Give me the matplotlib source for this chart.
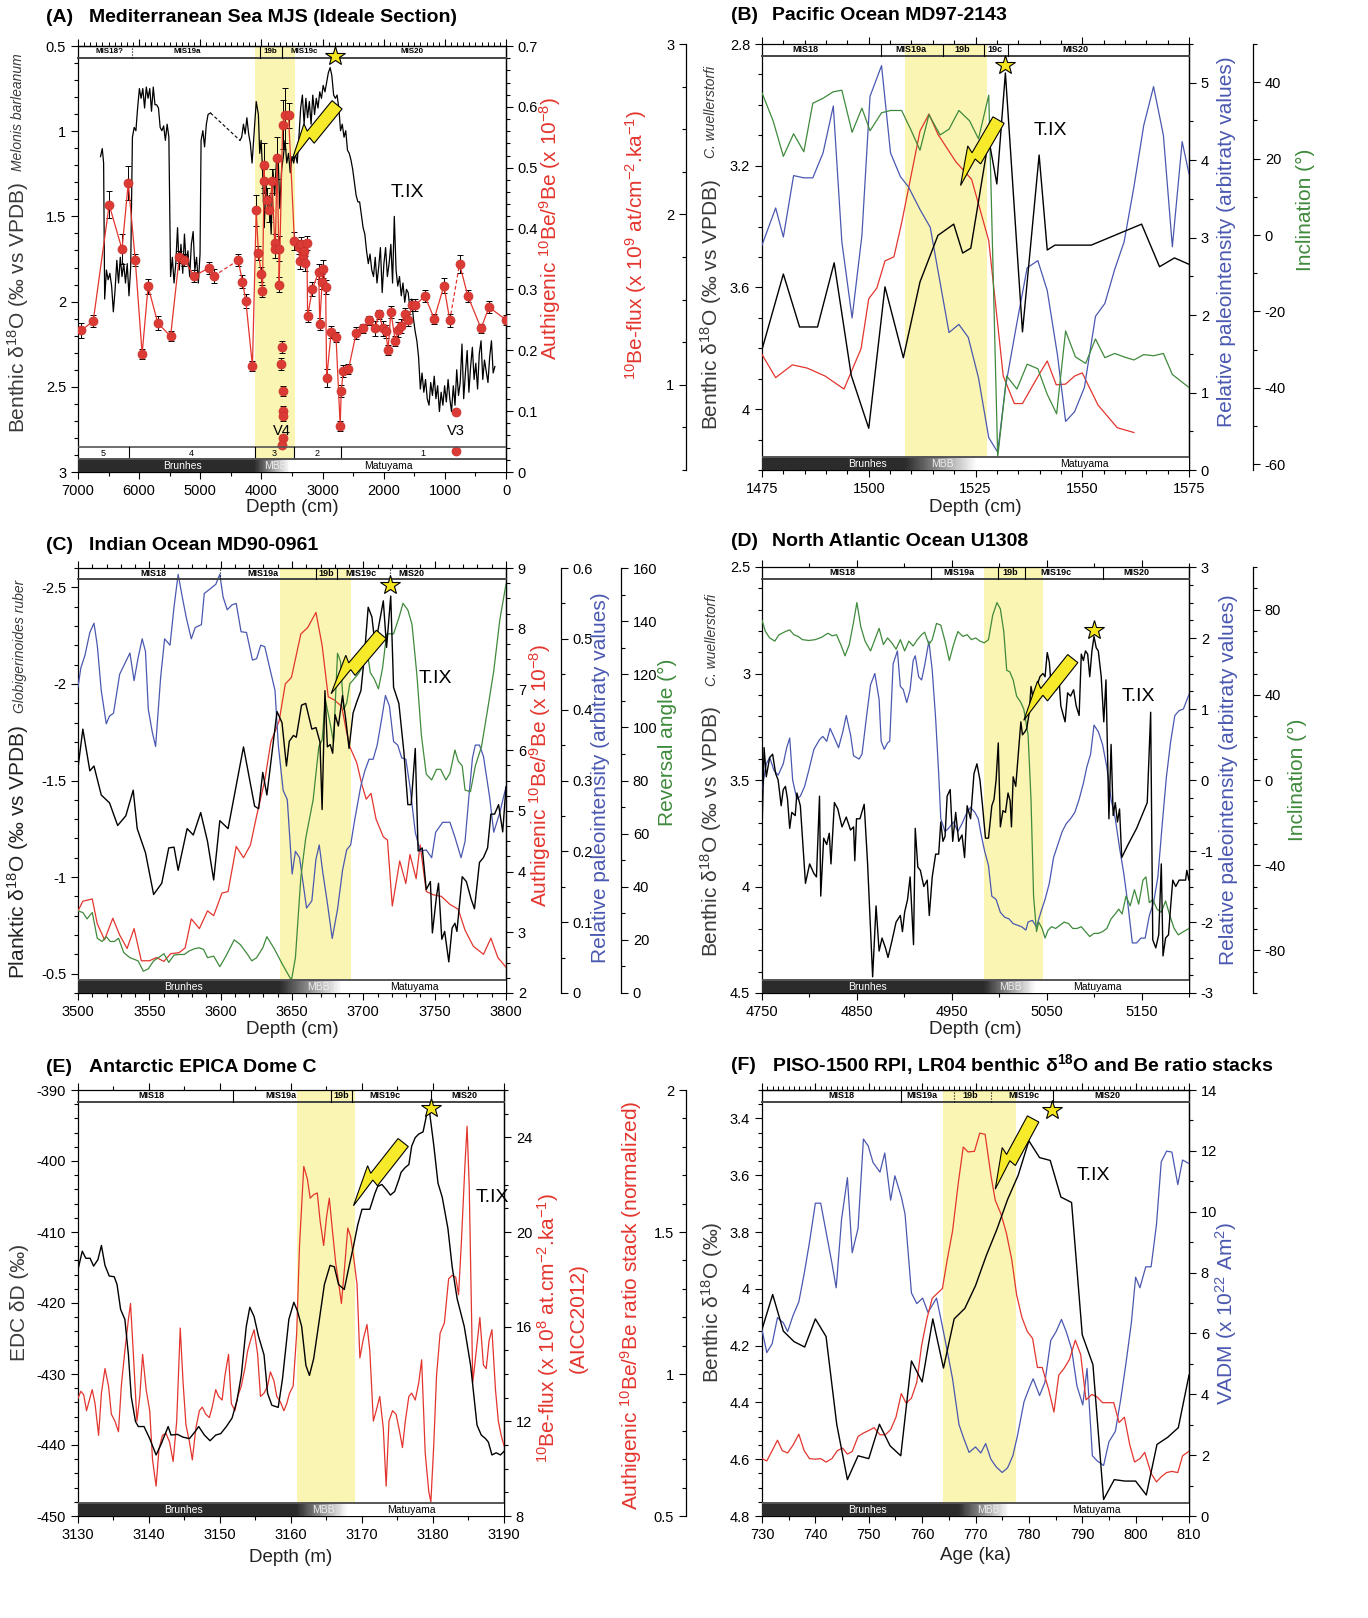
import numpy as np
import matplotlib
matplotlib.use('Agg')
import matplotlib.pyplot as plt
import matplotlib.transforms as mtransforms
from matplotlib.patches import Rectangle, Polygon
from matplotlib.ticker import MultipleLocator, FixedLocator, FuncFormatter, NullFormatter

plt.rcParams['font.family'] = ['Liberation Sans', 'DejaVu Sans']
plt.rcParams['mathtext.default'] = 'regular'
plt.rcParams['axes.unicode_minus'] = False

# ---------------- DATA ----------------
# Panel A: Mediterranean MJS (depth cm, benthic d18O)
A_black1 = [(6632,1.149),(6603,1.102),(6581,1.187),(6564,1.985),(6535,1.815),(6507,1.872),(6479,1.834),(6450,1.909),(6422,2.060),(6393,1.928),(6365,1.758),(6337,1.891),(6308,1.740),(6280,1.853),(6252,1.777),(6223,1.891),(6195,1.777),(6166,1.966),(6138,1.796),(6110,1.035),(6081,0.978),(6053,0.997),(6025,0.864),(5996,0.750),(5968,0.807),(5940,0.750),(5911,0.864),(5883,0.741),(5855,0.807),(5826,0.750),(5798,0.883),(5769,0.741),(5741,0.845),(5713,0.845),(5684,0.864),(5656,0.978),(5628,0.997),(5599,0.969),(5571,1.054),(5542,0.959),(5514,1.035),(5486,1.853),(5457,1.740),(5429,1.891),(5401,1.777),(5372,1.566),(5344,1.815),(5316,1.664),(5287,1.834),(5259,1.604),(5231,1.777),(5202,1.702),(5174,1.853),(5146,1.664),(5117,1.589),(5089,1.815),(5061,1.740),(5032,1.891),(5004,1.721),(4987,1.054),(4958,0.997),(4930,1.092),(4901,0.959),(4873,0.902),(4833,0.893)]
A_black2 = [(4351,1.054),(4323,1.035),(4294,0.959),(4266,1.016),(4238,0.921),(4209,1.016),(4181,1.073),(4153,1.187),(4124,1.035),(4085,0.826),(4050,0.902),(4028,1.130),(4005,1.054),(3982,1.225),(3954,1.566),(3925,1.301),(3897,1.472),(3869,1.377),(3841,1.604),(3812,1.225),(3784,1.377),(3756,1.187),(3727,1.149),(3699,1.453),(3670,1.225),(3642,1.149),(3614,1.054),(3586,1.187),(3557,1.130),(3529,1.244),(3501,1.149),(3472,1.187),(3444,1.130),(3415,1.187),(3387,1.035),(3358,0.864),(3330,0.788),(3302,0.959),(3273,0.807),(3245,0.921),(3217,0.826),(3188,0.959),(3160,0.788),(3131,0.902),(3103,0.807),(3075,0.864),(3046,0.769),(3018,0.807),(2990,0.731),(2961,0.769),(2933,0.713),(2905,0.656),(2876,0.627),(2848,0.675),(2819,0.788),(2791,0.807),(2763,0.788),(2734,0.864),(2706,0.997),(2678,0.959),(2649,1.035),(2621,0.997),(2593,1.111),(2564,1.130),(2536,1.168),(2507,1.225),(2451,1.377),(2422,1.415),(2394,1.415),(2366,1.491),(2337,1.566),(2309,1.604),(2281,1.702),(2252,1.777),(2224,1.721),(2195,1.815),(2167,1.853),(2139,1.740),(2110,1.891),(2082,1.796),(2054,1.683),(2025,1.947),(1997,1.777),(1969,1.683),(1940,1.853),(1912,1.777),(1883,1.664),(1855,1.891),(1827,1.500),(1798,1.815),(1770,1.909),(1742,1.853),(1713,1.966),(1685,1.891),(1656,2.004),(1628,1.928),(1600,1.947),(1571,2.042),(1543,1.985),(1515,2.098),(1486,2.174),(1458,2.230),(1430,2.325),(1401,2.513),(1373,2.419),(1344,2.532),(1316,2.457),(1288,2.570),(1259,2.608),(1231,2.475),(1203,2.551),(1174,2.438),(1146,2.570),(1118,2.494),(1089,2.645),(1061,2.532),(1032,2.608),(1004,2.494),(976,2.589),(947,2.457),(919,2.570),(891,2.645),(862,2.494),(834,2.608),(806,2.400),(777,2.551),(749,2.475),(720,2.249),(692,2.570),(664,2.419),(635,2.287),(607,2.532),(579,2.381),(550,2.268),(522,2.457),(494,2.362),(465,2.513),(437,2.306),(408,2.230),(380,2.457),(352,2.343),(295,2.475),(267,2.325),(238,2.230),(210,2.419),(182,2.381)]
# authigenic 10Be/9Be (x1e-8): depth, ratio, error
A_red1 = [(6944,0.233,0.012),(6751,0.248,0.010),(6490,0.439,0.022),(6280,0.366,0.025),(6178,0.475,0.028),(6064,0.349,0.010),(5951,0.194,0.008),(5854,0.305,0.012),(5696,0.245,0.012),(5486,0.223,0.008),(5344,0.353,0.010),(5259,0.349,0.010),(5106,0.322,0.010),(4862,0.335,0.010),(4777,0.322,0.012)]
A_red2 = [(4380,0.348,0.010),(4311,0.313,0.010),(4255,0.281,0.012),(4147,0.174,0.008),(4085,0.430,0.025),(4050,0.360,0.012),(4000,0.325,0.012),(3983,0.298,0.010),(3954,0.504,0.037),(3954,0.478,0.020),(3914,0.447,0.020),(3869,0.430,0.020),(3824,0.478,0.020),(3784,0.376,0.015),(3773,0.366,0.015),(3744,0.516,0.035),(3716,0.367,0.020),(3710,0.308,0.012),(3653,0.571,0.040),(3614,0.586,0.045),(3557,0.586,0.020),(3460,0.379,0.015),(3387,0.370,0.012),(3370,0.346,0.012),(3358,0.374,0.012),(3313,0.356,0.010),(3302,0.363,0.012),(3285,0.343,0.012),(3256,0.376,0.012),(3245,0.256,0.010),(3166,0.301,0.012),(3063,0.329,0.012),(3046,0.243,0.010),(3007,0.313,0.012),(2990,0.334,0.015),(2950,0.304,0.012),(2933,0.154,0.015),(2859,0.230,0.010),(2780,0.222,0.008),(2712,0.076,0.008),(2695,0.133,0.010),(2661,0.166,0.010),(2576,0.169,0.008),(2451,0.228,0.010),(2337,0.236,0.008),(2235,0.249,0.008),(2139,0.236,0.012),(2082,0.259,0.008),(2008,0.236,0.012),(1968,0.231,0.010),(1929,0.201,0.008),(1883,0.263,0.010),(1810,0.215,0.008),(1759,0.234,0.012),(1725,0.240,0.012),(1645,0.259,0.010),(1600,0.250,0.010),(1532,0.274,0.010),(1486,0.274,0.010),(1327,0.289,0.010),(1174,0.252,0.008),(1015,0.306,0.012),(919,0.249,0.010)]
A_red3 = [(760,0.342,0.015),(624,0.289,0.010),(408,0.236,0.008),(278,0.271,0.010),(0,0.250,0.008)]
A_red_iso = [(3670,0.206,0.010),(3687,0.177,0.010),(3653,0.133,0.008),(3653,0.101,0.008),(3653,0.092,0.008),(3653,0.056,0.005),(3660,0.044,0.005),(817,0.099,0.0),(817,0.035,0.0)]

# Panel B: Pacific MD97-2143 (depth cm)
B_d18O = [(1475.0,3.804),(1480.0,3.556),(1483.8,3.730),(1488.0,3.730),(1491.9,3.519),(1495.9,3.889),(1500.0,4.063),(1503.8,3.598),(1508.1,3.831),(1512.0,3.582),(1516.2,3.429),(1519.9,3.392),(1522.0,3.487),(1523.9,3.471),(1528.1,3.112),(1530.0,3.260),(1532.0,2.895),(1536.0,3.746),(1539.9,3.165),(1541.8,3.477),(1543.6,3.461),(1552.1,3.461),(1563.9,3.392),(1568.1,3.532),(1571.6,3.503),(1575.0,3.524)]
B_beflux = [(1475.0,1.178),(1478.2,1.042),(1482.1,1.117),(1485.6,1.098),(1489.8,1.051),(1494.2,0.975),(1498.2,1.212),(1500.0,1.505),(1501.9,1.568),(1503.8,1.727),(1505.9,1.751),(1507.7,1.950),(1512.0,2.489),(1514.1,2.589),(1516.2,2.470),(1520.4,2.309),(1524.1,2.205),(1528.1,1.846),(1531.5,1.051),(1534.1,0.890),(1536.0,0.890),(1539.9,1.061),(1541.8,1.140),(1543.9,1.000),(1546.1,1.004),(1548.2,1.051),(1550.0,1.070),(1553.7,0.881),(1558.2,0.748),(1562.1,0.720)]
B_rpi = [(1475.0,2.903),(1478.2,3.383),(1480.0,3.008),(1482.4,3.801),(1484.8,3.772),(1486.9,3.772),(1489.3,4.094),(1491.7,4.699),(1493.7,2.945),(1496.1,1.963),(1498.4,3.028),(1500.3,4.825),(1503.0,5.221),(1505.1,4.094),(1507.4,3.789),(1509.3,3.655),(1512.0,3.363),(1514.4,3.133),(1516.7,2.423),(1518.8,1.775),(1521.1,1.880),(1523.3,1.713),(1525.7,1.190),(1528.1,0.418),(1530.2,0.230),(1532.0,1.065),(1534.7,1.901),(1537.1,2.611),(1539.6,2.703),(1541.8,2.318),(1544.2,1.483),(1546.1,0.627),(1548.2,0.752),(1550.5,1.065),(1553.1,1.984),(1555.3,2.151),(1557.6,2.590),(1559.8,2.945),(1562.1,3.655),(1564.4,4.449),(1566.7,4.950),(1569.0,4.323),(1571.1,2.882),(1573.4,4.240),(1575.0,3.822)]
B_incl = [(1475.0,37.2),(1477.6,29.9),(1480.0,20.6),(1482.4,26.5),(1484.8,21.8),(1486.9,34.5),(1489.3,35.8),(1491.7,37.5),(1493.7,37.9),(1496.1,26.9),(1498.4,33.2),(1500.3,27.3),(1503.0,32.0),(1505.1,32.6),(1507.7,32.6),(1509.8,27.7),(1512.0,22.2),(1514.1,31.5),(1516.7,26.2),(1518.8,27.7),(1521.1,32.6),(1523.6,29.9),(1525.7,25.2),(1528.1,36.6),(1530.2,-58.1),(1532.3,-36.9),(1534.7,-40.3),(1537.1,-33.8),(1539.6,-35.0),(1541.8,-41.7),(1544.0,-46.8),(1546.1,-25.1),(1548.4,-31.9),(1550.8,-33.6),(1553.1,-27.2),(1555.3,-32.1),(1557.6,-31.0),(1559.8,-31.9),(1562.1,-32.7),(1564.4,-31.3),(1566.7,-31.6),(1569.0,-31.0),(1571.1,-36.5),(1575.0,-39.9)]

# Panel C: Indian Ocean MD90-0961 (depth cm)
C_d18O = [(3500,-1.566),(3503.4,-1.766),(3508.3,-1.550),(3511.2,-1.575),(3516.3,-1.425),(3522.1,-1.384),(3527.8,-1.267),(3533.5,-1.317),(3538.7,-1.450),(3541.5,-1.251),(3547.3,-1.126),(3553.0,-0.910),(3558.7,-0.968),(3563.6,-1.151),(3567.3,-1.155),(3570.2,-1.035),(3576.5,-1.251),(3580.8,-1.218),(3586.0,-1.334),(3590.8,-1.184),(3595.1,-0.985),(3599.4,-1.292),(3605.2,-1.251),(3616.0,-1.674),(3623.8,-1.367),(3626.6,-1.354),(3629.5,-1.542),(3632.4,-1.425),(3639.5,-1.857),(3643.0,-1.799),(3646.1,-1.575),(3648.1,-1.703),(3651.0,-1.733),(3653.0,-1.724),(3656.7,-1.890),(3659.6,-1.899),(3663.9,-1.766),(3666.8,-1.774),(3669.6,-1.699),(3671.1,-1.350),(3673.1,-1.965),(3674.8,-1.674),(3676.8,-1.686),(3678.5,-1.641),(3680.2,-1.841),(3682.5,-1.782),(3685.4,-1.940),(3687.7,-1.816),(3690.0,-1.666),(3692.8,-1.849),(3695.4,-1.907),(3698.3,-1.965),(3700.6,-2.131),(3703.4,-2.397),(3706.0,-2.347),(3708.3,-2.198),(3714.0,-2.430),(3716.3,-2.189),(3719.2,-2.455),(3721.2,-1.982),(3724.9,-1.899),(3728.4,-1.650),(3731.2,-1.375),(3733.5,-1.375),(3736.4,-1.666),(3738.4,-1.135),(3741.3,-1.151),(3744.1,-0.935),(3747.0,-0.977),(3748.4,-0.711),(3751.3,-0.902),(3752.7,-0.968),(3755.0,-0.678),(3757.0,-0.719),(3759.9,-0.561),(3762.2,-0.736),(3764.2,-0.761),(3765.6,-0.719),(3769.3,-1.002),(3772.2,-0.977),(3775.6,-0.885),(3777.9,-0.836),(3781.4,-1.076),(3784.2,-1.101),(3787.1,-1.151),(3789.4,-1.326),(3792.0,-1.326),(3794.8,-1.375),(3797.7,-1.234),(3800.0,-1.467)]
C_beratio = [(3500,3.353),(3503.4,3.512),(3510.0,3.549),(3513.5,3.141),(3518.6,2.876),(3524.4,3.231),(3529.2,2.955),(3534.4,2.733),(3539.3,3.061),(3544.4,2.531),(3550.1,2.531),(3555.0,2.584),(3560.2,2.521),(3565.0,2.648),(3570.8,2.664),(3575.1,2.743),(3579.4,3.221),(3585.1,3.061),(3590.8,3.353),(3595.1,3.274),(3600.9,3.645),(3605.2,3.671),(3610.9,4.414),(3616.0,4.228),(3620.9,4.440),(3625.2,4.917),(3630.9,5.501),(3635.2,6.137),(3641.0,6.481),(3645.3,7.091),(3649.6,7.197),(3656.2,7.913),(3661.0,8.019),(3666.8,8.268),(3671.1,7.727),(3675.4,6.879),(3679.7,6.826),(3684.8,6.720),(3688.3,6.296),(3690.5,6.057),(3695.4,5.792),(3699.1,5.421),(3702.0,5.193),(3705.4,5.288),(3708.9,4.864),(3714.0,4.573),(3716.9,4.520),(3720.3,3.433),(3725.5,4.175),(3729.8,3.804),(3732.7,4.281),(3737.0,3.883),(3739.8,4.440),(3744.1,3.671),(3749.0,3.618),(3754.7,3.592),(3760.7,3.459),(3766.5,3.380),(3771.3,3.035),(3777.1,2.770),(3784.2,2.637),(3789.4,2.902),(3794.3,2.584),(3800.0,2.425)]
C_rpi = [(3500,0.432),(3502.0,0.459),(3504.9,0.477),(3508.3,0.509),(3511.2,0.522),(3513.5,0.491),(3516.3,0.427),(3519.8,0.380),(3522.1,0.391),(3524.9,0.395),(3529.2,0.450),(3533.5,0.468),(3536.4,0.480),(3539.3,0.441),(3542.1,0.473),(3545.0,0.500),(3547.3,0.482),(3549.3,0.400),(3552.1,0.368),(3554.4,0.348),(3557.9,0.445),(3560.7,0.500),(3564.5,0.491),(3567.3,0.545),(3570.2,0.591),(3573.1,0.559),(3575.9,0.530),(3579.4,0.500),(3582.2,0.516),(3586.5,0.520),(3588.5,0.564),(3592.3,0.570),(3596.6,0.577),(3599.4,0.591),(3601.7,0.559),(3604.6,0.541),(3608.0,0.548),(3610.9,0.550),(3614.3,0.510),(3618.1,0.509),(3622.3,0.470),(3625.2,0.472),(3628.1,0.491),(3630.9,0.489),(3633.8,0.464),(3638.1,0.427),(3640.4,0.350),(3643.8,0.286),(3646.7,0.273),(3650.1,0.168),(3652.4,0.200),(3655.3,0.191),(3660.2,0.120),(3663.9,0.130),(3666.8,0.189),(3669.1,0.209),(3671.6,0.170),(3674.8,0.127),(3678.2,0.077),(3681.9,0.118),(3685.4,0.173),(3688.3,0.202),(3691.1,0.209),(3694.0,0.245),(3698.3,0.293),(3701.1,0.314),(3704.0,0.330),(3706.9,0.330),(3709.7,0.350),(3712.6,0.384),(3715.5,0.420),(3718.3,0.405),(3721.2,0.355),(3724.1,0.350),(3726.9,0.332),(3729.8,0.330),(3732.7,0.291),(3736.4,0.227),(3739.8,0.200),(3744.1,0.202),(3747.9,0.191),(3750.7,0.227),(3755.6,0.241),(3760.7,0.241),(3764.2,0.220),(3768.5,0.191),(3771.3,0.214),(3774.2,0.282),(3776.5,0.332),(3778.5,0.350),(3781.4,0.350),(3784.2,0.334),(3788.5,0.277),(3791.4,0.227),(3795.7,0.255),(3800.0,0.291)]
C_revangle = [(3500,30.9),(3503.4,30.3),(3506.3,27.9),(3510.0,30.3),(3513.5,20.6),(3516.9,19.4),(3519.8,21.2),(3522.6,19.4),(3525.5,19.4),(3528.4,20.6),(3532.1,15.2),(3536.4,13.3),(3542.1,12.1),(3545.8,8.2),(3549.3,9.1),(3553.0,12.1),(3556.4,13.3),(3560.2,14.8),(3563.6,11.5),(3567.3,14.3),(3570.8,14.5),(3574.5,14.5),(3577.9,15.8),(3581.7,16.7),(3585.1,17.0),(3588.0,16.4),(3590.8,13.3),(3595.1,13.9),(3599.4,9.9),(3603.7,13.9),(3609.5,20.0),(3613.8,18.2),(3618.9,14.5),(3621.8,12.1),(3625.2,13.3),(3629.5,17.0),(3632.4,21.2),(3637.2,17.0),(3643.8,10.3),(3649.6,4.8),(3652.4,13.3),(3656.2,43.6),(3659.6,58.2),(3664.8,72.7),(3668.8,92.7),(3671.1,95.2),(3673.4,110.3),(3676.2,103.0),(3679.1,94.5),(3681.9,127.9),(3684.0,124.8),(3686.2,106.7),(3688.3,109.1),(3690.5,116.4),(3693.4,118.2),(3696.3,120.0),(3699.1,122.4),(3702.0,130.9),(3704.9,120.6),(3707.7,118.2),(3710.6,114.5),(3713.5,122.4),(3716.3,135.2),(3718.3,135.2),(3721.2,135.2),(3724.9,141.2),(3727.8,146.7),(3731.2,144.2),(3734.1,138.8),(3737.5,120.0),(3740.7,97.0),(3744.1,82.4),(3747.9,80.2),(3751.3,84.2),(3754.2,84.2),(3757.9,80.2),(3760.7,82.7),(3764.2,91.5),(3766.5,87.3),(3769.3,85.5),(3771.3,76.4),(3775.1,75.8),(3778.5,85.5),(3782.8,92.7),(3787.1,106.7),(3791.4,121.2),(3795.7,140.6),(3800.0,153.9)]

# Panel D: North Atlantic U1308 (depth cm)
D_d18O = [(4750.0,3.742),(4752.2,3.348),(4754.5,3.485),(4758.1,3.394),(4761.2,3.379),(4764.4,3.470),(4767.0,3.500),(4770.2,3.621),(4772.4,3.545),(4774.7,3.530),(4776.9,3.591),(4779.2,3.727),(4781.4,3.652),(4785.0,3.667),(4786.8,3.561),(4790.4,3.621),(4795.8,3.985),(4800.2,3.894),(4804.7,3.939),(4807.4,3.955),(4810.6,3.576),(4811.9,4.045),(4815.0,3.773),(4818.2,3.803),(4820.9,3.750),(4822.7,3.894),(4826.3,3.606),(4829.9,3.636),(4834.3,3.720),(4838.8,3.674),(4843.3,3.735),(4846.5,3.720),(4847.8,3.879),(4849.6,3.682),(4853.2,3.682),(4857.7,3.614),(4861.3,3.894),(4866.6,4.424),(4870.2,4.091),(4873.4,4.303),(4876.5,4.242),(4880.1,4.288),(4882.8,4.333),(4886.8,4.258),(4891.3,4.167),(4895.8,4.136),(4898.0,4.212),(4900.3,4.121),(4903.4,4.061),(4906.1,3.955),(4909.7,4.273),(4911.5,3.727),(4914.2,3.909),(4916.9,3.924),(4920.5,4.000),(4924.1,3.970),(4926.3,4.136),(4929.4,3.955),(4933.0,3.848),(4936.2,3.848),(4938.4,3.697),(4940.7,3.788),(4942.9,3.765),(4945.1,3.576),(4948.3,3.545),(4951.0,3.788),(4954.1,3.652),(4957.3,3.788),(4960.8,3.758),(4963.5,3.864),(4966.2,3.621),(4969.8,3.682),(4973.4,3.470),(4976.5,3.424),(4979.7,3.500),(4982.4,3.621),(4985.5,3.773),(4988.7,3.773),(4992.2,3.621),(4994.5,3.591),(4996.7,3.500),(4999.0,3.326),(5001.2,3.720),(5003.9,3.644),(5006.6,3.652),(5009.3,3.561),(5011.5,3.598),(5012.9,3.720),(5014.7,3.485),(5017.4,3.530),(5020.1,3.379),(5022.8,3.227),(5024.5,3.288),(5027.2,3.273),(5029.0,3.258),(5031.7,3.182),(5033.5,3.061),(5035.3,3.106),(5038.0,3.136),(5040.7,3.045),(5042.9,3.015),(5046.1,3.000),(5048.3,3.015),(5050.6,2.902),(5052.8,2.947),(5055.1,3.076),(5057.3,3.015),(5060.4,3.076),(5063.1,3.030),(5064.9,3.152),(5067.6,3.197),(5069.4,3.227),(5072.1,3.091),(5075.2,3.106),(5078.4,3.076),(5081.1,3.152),(5084.2,3.197),(5086.5,2.909),(5088.7,2.939),(5090.9,2.894),(5093.2,2.909),(5095.4,3.015),(5097.7,2.894),(5099.9,2.826),(5102.2,2.879),(5104.4,2.894),(5107.5,3.015),(5110.2,3.227),(5112.5,3.030),(5115.6,3.682),(5117.9,3.333),(5120.1,3.667),(5122.3,3.606),(5124.6,3.697),(5126.8,3.636),(5129.1,3.864),(5135.8,3.803),(5144.8,3.727),(5156.0,3.606),(5159.6,3.182),(5161.8,4.250),(5165.0,4.288),(5168.1,4.227),(5170.8,3.894),(5172.6,4.326),(5175.3,4.242),(5178.4,4.227),(5180.7,4.091),(5182.9,3.970),(5186.0,4.000),(5189.6,3.970),(5193.2,3.970),(5196.4,3.970),(5197.7,3.924),(5200.0,3.970)]
D_rpi = [(4750.0,-0.136),(4754.5,0.227),(4758.1,0.318),(4762.6,0.136),(4767.0,0.068),(4772.4,0.227),(4776.0,0.455),(4779.2,0.591),(4782.3,0.000),(4786.8,-0.273),(4790.4,-0.227),(4794.9,-0.091),(4799.3,0.136),(4804.7,0.432),(4810.6,0.568),(4814.1,0.614),(4818.2,0.545),(4821.8,0.727),(4826.3,0.591),(4830.7,0.455),(4835.2,0.682),(4838.8,0.909),(4843.3,0.636),(4846.5,0.341),(4852.3,0.295),(4855.4,0.364),(4859.9,0.864),(4864.4,1.341),(4868.9,1.500),(4873.4,1.136),(4875.6,0.545),(4878.8,0.432),(4882.3,0.523),(4884.6,0.545),(4888.2,1.636),(4892.7,1.818),(4895.8,1.318),(4898.9,1.273),(4902.5,1.091),(4906.1,1.273),(4909.3,1.682),(4911.5,1.750),(4915.1,1.455),(4918.2,1.409),(4921.4,1.614),(4925.9,1.955),(4929.4,1.545),(4933.0,0.864),(4936.2,0.091),(4938.4,-0.545),(4942.9,-0.727),(4946.5,-0.682),(4951.9,-0.591),(4956.4,-0.727),(4960.8,-0.614),(4965.3,-0.477),(4969.8,-0.386),(4974.3,-0.455),(4977.9,-0.545),(4981.0,-0.773),(4984.6,-1.000),(4988.7,-1.205),(4992.2,-1.636),(4996.7,-1.682),(5001.2,-1.864),(5005.7,-1.932),(5010.2,-1.955),(5014.7,-2.023),(5019.2,-2.045),(5023.7,-2.068),(5028.1,-2.114),(5030.4,-2.000),(5034.9,-1.977),(5039.3,-2.068),(5043.8,-1.864),(5048.3,-1.682),(5052.8,-1.455),(5057.3,-1.091),(5061.8,-0.909),(5066.3,-0.727),(5070.7,-0.614),(5075.2,-0.545),(5079.7,-0.455),(5084.2,-0.273),(5088.7,-0.045),(5092.3,0.182),(5096.3,0.364),(5099.9,0.773),(5104.4,0.682),(5108.9,0.500),(5113.4,0.182),(5117.9,-0.273),(5122.3,-0.545),(5126.8,-0.955),(5131.3,-1.318),(5135.8,-1.773),(5140.3,-2.295),(5144.8,-2.295),(5149.3,-2.227),(5153.8,-2.227),(5158.2,-1.909),(5162.7,-1.727),(5167.2,-1.364),(5171.7,-0.636),(5176.2,0.045),(5180.7,0.545),(5185.1,0.909),(5189.6,0.977),(5194.1,1.000),(5200.0,1.205)]
D_incl = [(4750.0,75.0),(4753.6,69.7),(4758.1,66.7),(4763.5,65.2),(4767.9,68.2),(4774.7,69.7),(4779.2,70.5),(4783.6,68.2),(4788.1,67.4),(4792.6,65.9),(4799.3,65.5),(4806.1,65.9),(4812.8,67.0),(4819.5,68.9),(4824.0,67.7),(4828.5,68.2),(4833.0,63.6),(4837.5,58.3),(4842.0,63.6),(4846.5,74.2),(4850.0,83.3),(4854.1,72.0),(4858.6,65.2),(4864.4,60.6),(4868.9,65.9),(4873.4,71.2),(4877.9,63.6),(4882.3,66.7),(4886.8,64.4),(4891.3,61.4),(4895.8,65.9),(4900.3,60.6),(4904.8,65.2),(4909.3,62.9),(4913.7,65.9),(4918.2,68.2),(4921.4,69.4),(4925.9,63.6),(4929.4,65.9),(4933.9,73.5),(4938.4,72.7),(4942.9,65.2),(4947.4,56.1),(4951.9,63.6),(4956.4,69.7),(4961.7,67.4),(4966.2,68.2),(4970.7,65.9),(4975.2,66.7),(4979.7,65.2),(4984.2,64.4),(4988.7,65.9),(4993.1,77.3),(4997.6,83.3),(5001.2,80.3),(5004.8,69.7),(5007.9,51.5),(5011.1,50.8),(5014.7,47.0),(5018.3,39.4),(5022.8,36.4),(5025.9,33.3),(5030.4,21.2),(5033.5,-9.1),(5036.2,-54.5),(5039.3,-71.2),(5041.6,-66.7),(5045.2,-69.7),(5048.3,-74.2),(5051.5,-70.5),(5055.1,-68.9),(5059.5,-69.7),(5064.0,-68.2),(5068.5,-66.7),(5073.0,-67.4),(5077.5,-69.7),(5082.0,-69.7),(5086.5,-68.9),(5090.9,-71.2),(5095.4,-73.5),(5099.9,-72.0),(5104.4,-72.0),(5108.9,-71.2),(5113.4,-69.7),(5117.9,-65.2),(5122.3,-62.9),(5125.9,-60.6),(5129.5,-62.9),(5133.6,-54.5),(5138.0,-59.1),(5142.5,-51.5),(5147.0,-58.3),(5151.5,-47.0),(5154.6,-45.5),(5158.2,-57.6),(5161.8,-56.1),(5166.3,-60.6),(5170.8,-62.1),(5175.3,-56.8),(5179.8,-63.6),(5184.3,-69.7),(5188.7,-72.7),(5194.1,-71.2),(5200.0,-69.7)]

# Panel E: EPICA Dome C (depth m)
E_dD = [(3130.0,-415.3),(3130.6,-412.7),(3131.1,-413.7),(3131.7,-413.7),(3132.2,-414.8),(3132.8,-413.9),(3133.3,-411.9),(3133.8,-414.7),(3134.4,-416.2),(3135.1,-416.3),(3135.5,-417.4),(3136.0,-420.9),(3136.6,-422.3),(3137.1,-427.3),(3137.5,-433.2),(3138.1,-436.7),(3138.5,-437.4),(3139.3,-437.4),(3140.1,-439.1),(3141.0,-441.4),(3141.7,-439.9),(3142.7,-437.4),(3143.1,-438.6),(3144.0,-438.5),(3144.8,-438.9),(3145.7,-439.1),(3146.5,-438.1),(3147.0,-437.4),(3147.8,-438.6),(3148.6,-439.4),(3149.4,-438.6),(3150.1,-438.4),(3150.9,-437.4),(3151.7,-436.2),(3152.4,-433.7),(3153.0,-430.2),(3153.7,-423.3),(3154.2,-420.6),(3154.8,-421.9),(3155.4,-424.6),(3156.2,-427.3),(3156.7,-432.7),(3157.3,-434.4),(3158.2,-434.7),(3158.8,-430.7),(3159.7,-422.3),(3160.4,-419.9),(3160.9,-421.1),(3161.5,-423.3),(3162.1,-428.8),(3162.6,-430.2),(3163.2,-427.8),(3164.0,-422.3),(3164.7,-417.4),(3165.5,-414.7),(3166.1,-414.9),(3166.7,-417.4),(3167.5,-418.1),(3168.1,-415.2),(3168.8,-412.0),(3169.4,-409.0),(3170.0,-406.8),(3171.1,-406.8),(3171.8,-404.6),(3172.2,-403.6),(3172.8,-403.3),(3173.4,-404.0),(3174.0,-404.8),(3174.6,-404.3),(3175.2,-402.6),(3175.5,-401.6),(3176.1,-400.9),(3176.6,-400.5),(3177.0,-397.9),(3177.5,-396.7),(3178.0,-396.2),(3178.6,-395.9),(3179.1,-393.5),(3179.5,-393.0),(3180.1,-397.7),(3180.7,-403.1),(3181.3,-405.1),(3182.1,-409.5),(3182.7,-414.9),(3183.4,-419.4),(3184.4,-423.3),(3185.3,-428.8),(3186.2,-437.2),(3186.8,-438.6),(3187.4,-439.1),(3187.8,-439.6),(3188.3,-441.4),(3188.9,-441.1),(3189.5,-441.4),(3190.0,-440.9)]
E_beflux = [(3130.0,12.97),(3130.4,13.27),(3130.8,13.12),(3131.2,12.45),(3131.6,12.90),(3132.0,13.34),(3132.4,12.75),(3132.9,11.41),(3133.3,13.19),(3133.8,14.23),(3134.3,13.49),(3134.7,12.30),(3135.2,12.01),(3135.7,11.56),(3136.1,13.49),(3136.6,14.98),(3137.1,16.31),(3137.4,16.98),(3137.8,14.83),(3138.3,12.01),(3138.7,13.05),(3139.1,14.83),(3139.6,13.34),(3140.1,12.45),(3140.5,10.37),(3141.0,9.26),(3141.4,10.82),(3141.9,11.41),(3142.4,11.49),(3142.9,11.12),(3143.4,10.30),(3143.9,12.01),(3144.4,15.94),(3144.8,13.64),(3145.2,11.86),(3145.7,11.12),(3146.1,10.37),(3146.6,11.71),(3147.1,12.45),(3147.5,12.60),(3148.0,12.30),(3148.5,12.16),(3148.9,12.60),(3149.4,13.34),(3149.8,13.05),(3150.3,12.90),(3150.7,13.94),(3151.2,14.83),(3151.6,12.75),(3152.1,12.45),(3152.5,13.05),(3153.0,13.49),(3153.5,14.23),(3153.9,14.98),(3154.3,15.42),(3154.8,15.87),(3155.3,14.83),(3155.7,13.05),(3156.2,13.19),(3156.7,13.49),(3157.1,14.09),(3157.6,13.71),(3158.0,13.05),(3158.5,12.82),(3159.0,12.45),(3159.4,12.75),(3159.8,13.19),(3160.3,13.49),(3160.8,15.72),(3161.2,19.43),(3161.8,22.77),(3162.3,22.25),(3162.7,21.43),(3163.2,21.58),(3163.7,21.65),(3164.1,20.47),(3164.6,19.43),(3165.0,20.62),(3165.4,21.43),(3165.8,20.17),(3166.3,18.69),(3166.7,17.87),(3167.1,16.98),(3167.6,18.69),(3168.0,20.17),(3168.4,19.80),(3168.8,18.98),(3169.3,17.80),(3169.7,14.68),(3170.2,15.50),(3170.7,16.09),(3171.1,14.98),(3171.6,12.01),(3172.0,12.45),(3172.5,13.05),(3173.0,11.71),(3173.4,9.26),(3173.8,12.01),(3174.3,12.45),(3174.8,12.30),(3175.3,11.56),(3175.7,10.89),(3176.1,12.01),(3176.6,13.05),(3177.0,13.19),(3177.5,12.90),(3178.0,13.64),(3178.4,14.60),(3178.9,10.67),(3179.4,9.04),(3179.7,8.59),(3180.1,10.97),(3180.5,13.94),(3181.0,15.72),(3181.6,16.16),(3182.2,18.02),(3182.7,18.17),(3183.2,18.09),(3183.6,17.35),(3184.0,19.58),(3184.5,22.84),(3184.8,24.47),(3185.1,21.95),(3185.6,13.64),(3186.1,14.98),(3186.6,16.39),(3187.1,14.38),(3187.5,14.23),(3187.9,15.42),(3188.3,15.87),(3188.8,13.34),(3189.2,12.01),(3189.6,11.41),(3190.0,10.97)]

# Panel F: stacks vs age (ka)
F_d18O = [(730,4.143),(732,4.020),(734,4.149),(736,4.186),(738,4.205),(740,4.106),(742,4.168),(744,4.477),(746,4.672),(748,4.588),(750,4.598),(752,4.477),(754,4.553),(756,4.588),(758,4.254),(760,4.328),(762,4.106),(764,4.279),(766,4.106),(768,4.069),(770,3.989),(772,3.884),(774,3.791),(776,3.686),(778,3.600),(780,3.479),(782,3.538),(784,3.548),(786,3.677),(788,3.696),(790,4.162),(792,4.267),(794,4.742),(796,4.672),(798,4.677),(800,4.677),(802,4.726),(804,4.548),(806,4.523),(808,4.489),(810,4.304)]
F_beratio = [(730.0,0.702),(730.9,0.694),(731.9,0.730),(732.9,0.767),(733.8,0.730),(734.8,0.722),(735.8,0.749),(736.9,0.788),(737.9,0.730),(738.9,0.702),(740.0,0.700),(741.0,0.702),(742.0,0.690),(743.1,0.702),(744.1,0.730),(745.1,0.739),(746.0,0.718),(746.9,0.727),(748.0,0.780),(749.0,0.792),(750.0,0.801),(751.0,0.811),(752.1,0.786),(753.1,0.786),(754.1,0.804),(755.1,0.848),(756.1,0.931),(757.0,0.897),(758.0,0.915),(759.0,0.971),(759.9,1.100),(760.9,1.195),(761.9,1.267),(762.9,1.285),(763.8,1.301),(764.7,1.402),(765.7,1.503),(766.8,1.676),(767.7,1.799),(768.6,1.782),(769.8,1.784),(770.8,1.848),(771.8,1.844),(772.9,1.698),(773.7,1.612),(774.8,1.562),(775.8,1.495),(776.8,1.402),(777.7,1.279),(778.7,1.199),(779.7,1.150),(780.7,1.125),(781.6,1.023),(782.5,1.023),(783.7,0.946),(784.7,0.866),(785.6,0.996),(786.6,1.020),(787.6,1.051),(788.7,1.119),(789.7,1.069),(790.7,0.909),(791.8,0.928),(792.8,0.919),(793.8,0.899),(794.9,0.899),(795.9,0.899),(796.9,0.829),(797.9,0.848),(798.9,0.751),(799.8,0.690),(800.8,0.702),(801.7,0.724),(802.9,0.650),(803.9,0.620),(804.8,0.638),(805.8,0.653),(806.8,0.657),(807.9,0.653),(808.8,0.712),(810.0,0.728)]
F_vadm = [(730.0,6.12),(730.9,5.37),(731.9,5.66),(732.9,6.52),(734.0,6.35),(734.8,6.06),(735.8,6.58),(736.9,7.04),(737.9,7.96),(738.9,9.00),(740.0,10.28),(741.0,10.28),(742.0,9.34),(743.1,8.31),(743.9,7.50),(744.9,9.74),(746.0,11.12),(746.9,8.65),(748.0,9.46),(749.0,12.39),(749.9,12.16),(750.8,11.62),(752.1,11.30),(753.0,11.93),(754.1,10.38),(754.9,11.18),(756.1,10.49),(756.8,9.92),(758.0,7.33),(759.0,6.98),(760.1,7.16),(761.1,6.69),(762.7,7.16),(763.8,6.23),(764.7,5.43),(765.7,4.51),(766.9,3.01),(767.8,2.55),(768.8,2.09),(770.0,2.27),(771.0,2.07),(771.9,2.38),(772.9,1.86),(773.9,1.61),(775.0,1.43),(776.0,1.58),(777.0,1.98),(777.9,2.67),(779.1,3.76),(780.1,4.22),(780.8,4.51),(782.0,3.96),(783.0,4.39),(784.1,5.77),(785.1,6.06),(786.1,6.46),(787.0,6.06),(788.0,5.49),(789.0,4.28),(790.1,3.65),(790.9,4.85),(791.9,1.98),(792.8,1.81),(794.0,1.66),(795.0,2.44),(796.2,2.78),(797.2,3.82),(798.2,5.03),(799.2,6.35),(800.0,7.85),(800.8,7.50),(801.9,8.19),(802.9,8.19),(803.9,9.57),(804.8,11.64),(805.8,11.99),(806.8,11.96),(807.9,10.89),(808.8,11.70),(810.0,11.58)]

# ---------------- STYLE ----------------
W, H = 1368, 1618
RED = '#e3352e'
BLUE = '#4a58b0'
GREEN = '#3f8a3c'
YEL = '#faf5b2'
LBL = '#3a3a3a'
ARROW = '#f7ea2a'

fig = plt.figure(figsize=(W / 100, H / 100), dpi=100)


def pax(x0, y0, x1, y1):
    return fig.add_axes([x0 / W, 1 - y1 / H, (x1 - x0) / W, (y1 - y0) / H])


def gfmt(v, p):
    s = ('%.4f' % v).rstrip('0').rstrip('.')
    return '0' if s in ('-0', '') else s


def yaxis_ticks(a, major, minor):
    a.yaxis.set_major_locator(MultipleLocator(major))
    a.yaxis.set_minor_locator(MultipleLocator(minor))
    a.yaxis.set_major_formatter(FuncFormatter(gfmt))
    a.tick_params(axis='y', which='major', length=5, width=0.8, labelsize=10.5, direction='out')
    a.tick_params(axis='y', which='minor', length=3, width=0.8, direction='out')


def xaxis_ticks(a, major, minor, fixed=None, fixed_minor=None, top_minor=None):
    if fixed is not None:
        a.xaxis.set_major_locator(FixedLocator(fixed))
        a.xaxis.set_minor_locator(FixedLocator(fixed_minor))
    else:
        a.xaxis.set_major_locator(MultipleLocator(major))
        a.xaxis.set_minor_locator(MultipleLocator(minor))
    a.xaxis.set_major_formatter(FuncFormatter(gfmt))
    has_top = top_minor is None
    a.tick_params(axis='x', which='major', length=5, width=0.8, labelsize=10.5, direction='out', top=has_top)
    a.tick_params(axis='x', which='minor', length=3, width=0.8, direction='out', top=has_top)
    if top_minor is not None:
        sec = a.secondary_xaxis('top')
        sec.xaxis.set_major_locator(MultipleLocator(major))
        sec.xaxis.set_minor_locator(MultipleLocator(top_minor))
        sec.xaxis.set_major_formatter(NullFormatter())
        sec.tick_params(axis='x', which='major', length=5, width=0.8, direction='out')
        sec.tick_params(axis='x', which='minor', length=3, width=0.7, direction='out')
        sec.spines['top'].set_linewidth(0.9)


def twin(ax, side, offset_px=0):
    t = ax.twinx()
    for s in ('top', 'bottom', 'left', 'right'):
        t.spines[s].set_visible(False)
    t.spines[side].set_visible(True)
    t.spines[side].set_linewidth(0.9)
    if offset_px:
        t.spines[side].set_position(('outward', offset_px * 0.72))
    if side == 'left':
        t.yaxis.set_ticks_position('left')
    else:
        t.yaxis.set_ticks_position('right')
    return t


def unz(pairs):
    return [p[0] for p in pairs], [p[1] for p in pairs]


def band(ax, x0, x1):
    ax.axvspan(x0, x1, color=YEL, lw=0, zorder=0)


def mis_strip(top, bounds, labels, fs=6.5, h=0.027):
    tr = mtransforms.blended_transform_factory(top.transData, top.transAxes)
    top.plot([0, 1], [1 - h, 1 - h], transform=top.transAxes, color='#444444', lw=1.4, zorder=30, clip_on=False)
    for b, st in bounds:
        top.plot([b, b], [1 - h, 1], transform=tr, color='k', lw=0.8, ls=st, zorder=30)
    for xc, lab in labels:
        top.text(xc, 1 - h / 2, lab, transform=tr, ha='center', va='center', fontsize=fs,
                 fontweight='bold', zorder=31)


def pol_strip(top, left, g0, g1, right, labs, h=0.03):
    tr = mtransforms.blended_transform_factory(top.transData, top.transAxes)
    top.add_patch(Rectangle((left, 0), g0 - left, h, transform=tr, fc='#2b2b2b', ec='none', zorder=25))
    n = 50
    for i in range(n):
        a = g0 + (g1 - g0) * i / n
        b = g0 + (g1 - g0) * (i + 1) / n
        c = 0.17 + 0.83 * min(1.0, ((i + 0.5) / n) * 1.15)
        top.add_patch(Rectangle((a, 0), b - a, h, transform=tr, fc=(c, c, c), ec='none', zorder=25))
    top.add_patch(Rectangle((g1, 0), right - g1, h, transform=tr, fc='white', ec='none', zorder=25))
    top.plot([0, 1], [h, h], transform=top.transAxes, color='#555555', lw=1.4, zorder=26)
    cols = ['white', '#eeeeee', 'black']
    for (xc, lab), col in zip(labs, cols):
        top.text(xc, h / 2, lab, transform=tr, ha='center', va='center', fontsize=7.5,
                 color=col, zorder=27)


def bolt(ax, tail, tip, w=6.5):
    p0 = np.array(ax.transData.transform(tail))
    p1 = np.array(ax.transData.transform(tip))
    d = p1 - p0
    L = np.hypot(d[0], d[1])
    u = d / L
    nrm = np.array([u[1], -u[0]])
    shape = [(0, w), (0.55 * L, w), (0.50 * L, 2.1 * w), (L, 0.0), (0.60 * L, 0.1 * w),
             (0.62 * L, -w), (0, -w)]
    pts = np.array([p0 + s * u + t * nrm for s, t in shape])
    fpts = fig.transFigure.inverted().transform(pts)
    fig.patches.append(Polygon(fpts, closed=True, transform=fig.transFigure, fc=ARROW,
                               ec='k', lw=0.8, zorder=40))


def star(top, ax, x, y):
    top.plot([x], [y], transform=ax.transData, marker='*', ms=15, mfc='#f5e51c', mec='k',
             mew=0.8, clip_on=False, zorder=45)


def ftext(x, y, s, **kw):
    fig.text(x / W, 1 - y / H, s, **kw)


def vlabel(x, y, s, color=LBL, fs=15, style='normal'):
    ftext(x, y, s, rotation=90, ha='center', va='center', color=color, fontsize=fs, fontstyle=style)


def title(xl, xt, y, lab, txt):
    ftext(xl, y, lab, ha='left', va='center', fontsize=14, fontweight='bold')
    ftext(xt, y, txt, ha='left', va='center', fontsize=14, fontweight='bold')


D18 = 'Benthic \u03b4$^{18}$O (\u2030 vs VPDB)'
RPI = 'Relative paleointensity (arbitraty values)'

# ================= PANEL A =================
axA = pax(78, 46, 506, 472)
axA.set_xlim(7000, 0)
axA.set_ylim(3, 0.5)
band(axA, 4113, 3455)
x, y = unz(A_black1)
axA.plot(x, y, color='k', lw=0.9, zorder=3)
x2, y2 = unz(A_black2)
axA.plot(x2, y2, color='k', lw=0.9, zorder=3)
axA.plot([x[-1], x2[0]], [y[-1], y2[0]], color='k', lw=0.8, ls=(0, (3, 2)), zorder=3)
xaxis_ticks(axA, 1000, 500, top_minor=100)
yaxis_ticks(axA, 0.5, 0.1)
axAr = twin(axA, 'right')
axAr.set_ylim(0, 0.7)
yaxis_ticks(axAr, 0.1, 0.02)
for seg in (A_red1, A_red2, A_red3):
    sx = [p[0] for p in seg]
    sy = [p[1] for p in seg]
    se = [p[2] for p in seg]
    axAr.errorbar(sx, sy, yerr=se, fmt='none', ecolor='k', elinewidth=0.7, capsize=2.5, capthick=0.7, zorder=4)
    axAr.plot(sx, sy, color=RED, lw=0.9, zorder=5)
    axAr.plot(sx, sy, 'o', ms=6.5, mfc='#db3a35', mec='#c8302b', mew=0.5, zorder=6)
for s1, s2 in ((A_red1, A_red2), (A_red2, A_red3)):
    axAr.plot([s1[-1][0], s2[0][0]], [s1[-1][1], s2[0][1]], color=RED, lw=0.9, ls=(0, (3, 2)), zorder=5)
ix = [p[0] for p in A_red_iso]
iy = [p[1] for p in A_red_iso]
ie = [p[2] for p in A_red_iso]
axAr.errorbar(ix, iy, yerr=ie, fmt='none', ecolor='k', elinewidth=0.7, capsize=2.5, capthick=0.7, zorder=4)
axAr.plot(ix, iy, 'o', ms=6.5, mfc='#db3a35', mec='#c8302b', mew=0.5, zorder=6, clip_on=False)
axAr.text(3670, 0.068, 'V4', ha='center', va='center', fontsize=10.5, zorder=7)
axAr.text(817, 0.068, 'V3', ha='center', va='center', fontsize=10.5, zorder=7)
axAr.text(1620, 0.46, 'T.IX', ha='center', va='center', fontsize=14, zorder=7)
mis_strip(axAr, [(6110, ':'), (4028, '-'), (3670, '-')],
          [(6478, 'MIS18?'), (5213, 'MIS19a'), (3852, '19b'), (3302, 'MIS19c'), (1543, 'MIS20')], fs=5.8)
trA = mtransforms.blended_transform_factory(axAr.transData, axAr.transAxes)
axAr.plot([0, 1], [0.058, 0.058], transform=axAr.transAxes, color='#555555', lw=1.2, zorder=26)
for b in (6166, 4113, 3460, 2706):
    axAr.plot([b, b], [0.03, 0.058], transform=trA, color='k', lw=0.8, zorder=26)
for xc, lab in ((6583, '5'), (5140, '4'), (3787, '3'), (3083, '2'), (1353, '1')):
    axAr.text(xc, 0.044, lab, transform=trA, ha='center', va='center', fontsize=6.5, zorder=27)
pol_strip(axAr, 7000, 4113, 3455, 0, [(5290, 'Brunhes'), (3780, 'MBB'), (1930, 'Matuyama')])

# ================= PANEL B =================
axB = pax(762, 44, 1189, 470)
axB.set_xlim(1475, 1575)
axB.set_ylim(4.2, 2.8)
band(axB, 1508.6, 1527.8)
xaxis_ticks(axB, 25, 5)
yaxis_ticks(axB, 0.4, 0.1)
axBf = twin(axB, 'left', 76)
axBf.set_ylim(0.5, 3)
yaxis_ticks(axBf, 1, 0.25)
axBr = twin(axB, 'right')
axBr.set_ylim(0, 5.5)
yaxis_ticks(axBr, 1, 0.5)
axBi = twin(axB, 'right', 64)
axBi.set_ylim(-61.5, 50)
yaxis_ticks(axBi, 20, 10)
x, y = unz(B_incl); axBi.plot(x, y, color=GREEN, lw=0.9, zorder=3)
x, y = unz(B_rpi); axBr.plot(x, y, color=BLUE, lw=0.9, zorder=3)
x, y = unz(B_beflux); axBf.plot(x, y, color=RED, lw=0.9, zorder=3)
x, y = unz(B_d18O); axBi.plot(x, y, color='k', lw=1.0, zorder=4, transform=axB.transData)
axBi.text(1542.6, 3.085, 'T.IX', transform=axB.transData, ha='center', va='center', fontsize=14, zorder=7)
mis_strip(axBi, [(1502.8, '-'), (1517.4, '-'), (1527.1, '-'), (1532.5, '-')],
          [(1485.2, 'MIS18'), (1509.8, 'MIS19a'), (1521.8, '19b'), (1529.6, '19c'), (1548.4, 'MIS20')])
pol_strip(axBi, 1475, 1508.6, 1527.8, 1575, [(1499.6, 'Brunhes'), (1517.3, 'MBB'), (1550.6, 'Matuyama')])

# ================= PANEL C =================
axC = pax(78, 568, 506, 993)
axC.set_xlim(3500, 3800)
axC.set_ylim(-0.4, -2.6)
band(axC, 3641.5, 3691.4)
xaxis_ticks(axC, 50, 10)
yaxis_ticks(axC, 0.5, 0.1)
axCb = twin(axC, 'right')
axCb.set_ylim(2, 9)
yaxis_ticks(axCb, 1, 0.25)
axCp = twin(axC, 'right', 55)
axCp.set_ylim(0, 0.6)
yaxis_ticks(axCp, 0.1, 0.05)
axCa = twin(axC, 'right', 115)
axCa.set_ylim(0, 160)
yaxis_ticks(axCa, 20, 10)
x, y = unz(C_revangle); axCa.plot(x, y, color=GREEN, lw=0.9, zorder=3)
x, y = unz(C_rpi); axCp.plot(x, y, color=BLUE, lw=0.9, zorder=3)
x, y = unz(C_beratio); axCb.plot(x, y, color=RED, lw=0.9, zorder=3)
x, y = unz(C_d18O); axCa.plot(x, y, color='k', lw=1.0, zorder=4, transform=axC.transData)
axCa.text(3750.7, -2.03, 'T.IX', transform=axC.transData, ha='center', va='center', fontsize=14, zorder=7)
mis_strip(axCa, [(3599.4, ':'), (3667, '-'), (3681.7, '-'), (3719, ':')],
          [(3553, 'MIS18'), (3629.5, 'MIS19a'), (3674, '19b'), (3698, 'MIS19c'), (3733.5, 'MIS20')])
pol_strip(axCa, 3500, 3641.5, 3691.4, 3800, [(3574, 'Brunhes'), (3668.8, 'MBB'), (3735.5, 'Matuyama')])

# ================= PANEL D =================
axD = pax(762, 567, 1189, 993)
axD.set_xlim(4750, 5200)
axD.set_ylim(4.5, 2.5)
band(axD, 4984.2, 5046.1)
xaxis_ticks(axD, None, None, fixed=[4750, 4850, 4950, 5050, 5150],
            fixed_minor=[4800, 4900, 5000, 5100, 5200])
yaxis_ticks(axD, 0.5, 0.1)
axDr = twin(axD, 'right')
axDr.set_ylim(-3, 3)
yaxis_ticks(axDr, 1, 0.25)
axDi = twin(axD, 'right', 64)
axDi.set_ylim(-100, 100)
yaxis_ticks(axDi, 40, 10)
x, y = unz(D_incl); axDi.plot(x, y, color=GREEN, lw=0.9, zorder=3)
x, y = unz(D_rpi); axDr.plot(x, y, color=BLUE, lw=0.9, zorder=3)
x, y = unz(D_d18O); axDi.plot(x, y, color='k', lw=1.0, zorder=4, transform=axD.transData)
axDi.text(5147, 3.106, 'T.IX', transform=axD.transData, ha='center', va='center', fontsize=14, zorder=7)
mis_strip(axDi, [(4928, '-'), (4999, '-'), (5026.8, '-'), (5108.9, '-')],
          [(4835.2, 'MIS18'), (4957.3, 'MIS19a'), (5012, '19b'), (5059.5, 'MIS19c'), (5144.8, 'MIS20')])
pol_strip(axDi, 4750, 4984.2, 5046.1, 5200, [(4860.8, 'Brunhes'), (5011.5, 'MBB'), (5103, 'Matuyama')])

# ================= PANEL E =================
axE = pax(78, 1090, 504, 1516)
axE.set_xlim(3130, 3190)
axE.set_ylim(-450, -390)
band(axE, 3160.8, 3169.0)
xaxis_ticks(axE, 10, 5)
yaxis_ticks(axE, 10, 2)
axEr = twin(axE, 'right')
axEr.set_ylim(8, 26)
yaxis_ticks(axEr, 4, 1)
x, y = unz(E_beflux); axEr.plot(x, y, color=RED, lw=0.9, zorder=3)
x, y = unz(E_dD); axEr.plot(x, y, color='k', lw=1.0, zorder=4, transform=axE.transData)
axEr.text(3188.3, -405.1, 'T.IX', transform=axE.transData, ha='center', va='center', fontsize=14, zorder=7)
mis_strip(axEr, [(3151.9, '-'), (3165.6, '-'), (3168.6, '-'), (3179.7, '-')],
          [(3140.3, 'MIS18'), (3158.6, 'MIS19a'), (3167.1, '19b'), (3173.3, 'MIS19c'), (3184.4, 'MIS20')])
pol_strip(axEr, 3130, 3160.8, 3169.0, 3190, [(3144.8, 'Brunhes'), (3164.6, 'MBB'), (3176.9, 'Matuyama')])

# ================= PANEL F =================
axF = pax(762, 1090, 1189, 1516)
axF.set_xlim(730, 810)
axF.set_ylim(4.8, 3.3)
band(axF, 764.0, 777.6)
xaxis_ticks(axF, 10, 5, top_minor=1)
yaxis_ticks(axF, 0.2, 0.05)
axFv = twin(axF, 'right')
axFv.set_ylim(0, 14)
yaxis_ticks(axFv, 2, 1)
axFb = twin(axF, 'left', 76)
axFb.set_ylim(0.5, 2)
yaxis_ticks(axFb, 0.5, 0.1)
x, y = unz(F_vadm); axFv.plot(x, y, color=BLUE, lw=0.9, zorder=3)
x, y = unz(F_beratio); axFb.plot(x, y, color=RED, lw=0.9, zorder=3)
x, y = unz(F_d18O); axFb.plot(x, y, color='k', lw=1.0, zorder=4, transform=axF.transData)
axFb.text(792.1, 3.60, 'T.IX', transform=axF.transData, ha='center', va='center', fontsize=14, zorder=7)
mis_strip(axFb, [(756.1, '-'), (766.0, ':'), (772.9, ':'), (784.5, '-')],
          [(744.9, 'MIS18'), (759.9, 'MIS19a'), (769.0, '19b'), (779.1, 'MIS19c'), (794.8, 'MIS20')])
pol_strip(axFb, 730, 766.8, 777.6, 810, [(749.7, 'Brunhes'), (772.5, 'MBB'), (792.7, 'Matuyama')])

for a in (axA, axB, axC, axD, axE, axF):
    for s in a.spines.values():
        s.set_linewidth(0.9)

# stars and arrows
star(axAr, axA, 2802, 0.56)
star(axBi, axB, 1532, 2.87)
star(axCa, axC, 3719, -2.513)
star(axDi, axD, 5099.9, 2.795)
star(axEr, axE, 3179.7, -392.5)
star(axFb, axF, 784.3, 3.372)
bolt(axA, (2763, 0.845), (3500, 1.17))
bolt(axB, (1530.4, 3.05), (1521.5, 3.265))
bolt(axC, (3712.6, -2.256), (3677.4, -1.949))
bolt(axD, (5077.5, 2.93), (5025.9, 3.22))
bolt(axE, (3175.8, -397.4), (3168.8, -406.3))
bolt(axF, (780.8, 3.402), (773.7, 3.649))

# titles
title(46, 89, 18, '(A)', 'Mediterranean Sea MJS (Ideale Section)')
title(731, 772, 16, '(B)', 'Pacific Ocean MD97-2143')
title(46, 89, 546, '(C)', 'Indian Ocean MD90-0961')
title(731, 772, 541, '(D)', 'North Atlantic Ocean U1308')
title(46, 89, 1068, '(E)', 'Antarctic EPICA Dome C')
title(731, 772, 1065, '(F)', 'PISO-1500 RPI, LR04 benthic \u03b4$^{18}$O and Be ratio stacks')

# x labels
for xc, yc, s in ((292, 508, 'Depth (cm)'), (975, 508, 'Depth (cm)'), (292, 1030, 'Depth (cm)'),
                  (975, 1030, 'Depth (cm)'), (291, 1557, 'Depth (m)'), (975, 1555, 'Age (ka)')):
    ftext(xc, yc, s, ha='center', va='center', fontsize=13.5, color='#222222')

# y labels
vlabel(18, 308, D18)
vlabel(18, 112, 'Melonis barleanum', fs=10, style='italic')
vlabel(550, 228, 'Authigenic $^{10}$Be/$^{9}$Be (x 10$^{-8}$)', color=RED)

vlabel(636, 245, '$^{10}$Be-flux (x 10$^{9}$ at/cm$^{-2}$.ka$^{-1}$)', color=RED)
vlabel(711, 305, D18)
vlabel(711, 112, 'C. wuellerstorfi', fs=10, style='italic')
vlabel(1226, 242, RPI, color=BLUE)
vlabel(1305, 210, 'Inclination (\u00b0)', color=GREEN)

vlabel(18, 852, 'Planktic \u03b4$^{18}$O (\u2030 vs VPDB)', color='#222222')
vlabel(20, 646, 'Globigerinoides ruber', fs=10, style='italic')
vlabel(540, 775, 'Authigenic $^{10}$Be/$^{9}$Be (x 10$^{-8}$)', color=RED)
vlabel(601, 778, RPI, color=BLUE)
vlabel(667, 742, 'Reversal angle (\u00b0)', color=GREEN)

vlabel(711, 832, D18)
vlabel(712, 640, 'C. wuellerstorfi', fs=10, style='italic')
vlabel(1228, 780, RPI, color=BLUE)
vlabel(1297, 780, 'Inclination (\u00b0)', color=GREEN)

vlabel(20, 1302, 'EDC \u03b4D (\u2030)')
vlabel(548, 1328, '$^{10}$Be-flux (x 10$^{8}$ at.cm$^{-2}$.ka$^{-1}$)', color=RED)
vlabel(578, 1318, '(AICC2012)', color=RED)
vlabel(631, 1305, 'Authigenic $^{10}$Be/$^{9}$Be ratio stack (normalized)', color=RED)

vlabel(712, 1302, 'Benthic \u03b4$^{18}$O (\u2030)')
vlabel(1226, 1313, 'VADM (x 10$^{22}$ Am$^{2}$)', color=BLUE)

fig.savefig('out.png', dpi=100)
